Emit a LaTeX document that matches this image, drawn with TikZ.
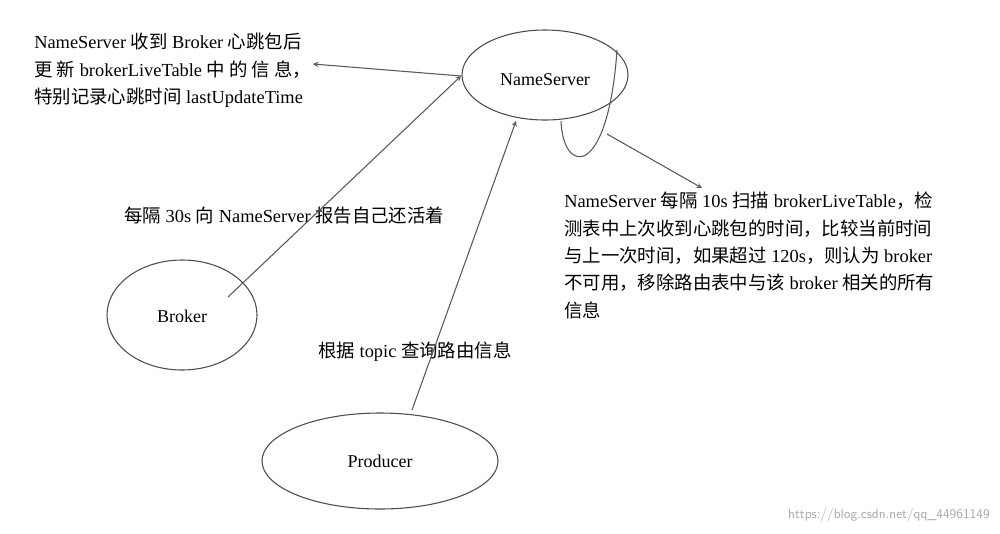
\documentclass[tikz,border=0pt]{standalone}
\usepackage{fontspec}
\setmainfont{Liberation Serif}
\newfontfamily\cjk{Noto Sans CJK SC}
\newcommand\zh[1]{{\cjk #1}}
\begin{document}
\begin{tikzpicture}[x=0.75pt,y=-0.75pt,
  ell/.style={draw=black!70,thick},
  conn/.style={draw=black!65,thick,->,>=stealth},
  txt/.style={font=\fontsize{13.8}{20.5}\selectfont,align=left,anchor=north west,inner sep=0pt}]
\useasboundingbox (0,0) rectangle (1000,533);
\draw[ell] (545,75) ellipse (83 and 45);
\node (ns) at (545,80) {\fontsize{13.5}{15}\selectfont NameServer};
\draw[ell] (182,315) ellipse (75 and 55);
\node (br) at (182,316) {\fontsize{13.5}{15}\selectfont Broker};
\draw[ell] (380,461) ellipse (118 and 48);
\node (pr) at (380,461) {\fontsize{13.5}{15}\selectfont Producer};
\coordinate (nsl) at (461,76);
\coordinate (nsb) at (516,121);
\coordinate (t1) at (313,64);
\coordinate (b1) at (228,297);
\coordinate (p1) at (412,410);
\coordinate (l1) at (607,134);
\coordinate (l2) at (702,188);
\node[txt] (a) at (34,33) {NameServer \zh{收到} Broker \zh{心跳包后}\\ \zh{更 新} brokerLiveTable \zh{中 的 信 息，}\\ \zh{特别记录心跳时间} lastUpdateTime};
\node[txt] (b) at (124,207) {\zh{每隔} 30s \zh{向} NameServer \zh{报告自己还活着}};
\node[txt] (c) at (564,192) {NameServer \zh{每隔} 10s \zh{扫描} brokerLiveTable\zh{，检}\\ \zh{测表中上次收到心跳包的时间，比较当前时间}\\ \zh{与上一次时间，如果超过} 120s\zh{，则认为} broker\\ \zh{不可用，移除路由表中与该} broker \zh{相关的所有}\\ \zh{信息}};
\node[txt] (d) at (318,342) {\zh{根据} topic \zh{查询路由信息}};
\node[anchor=south east,inner sep=0pt,text=black!35,font=\sffamily\fontsize{10}{12}\selectfont] (w) at (990,522) {https://blog.csdn.net/qq\_44961149};
\draw[conn] (nsl) -- (t1);
\draw[conn] (b1) -- (nsl);
\draw[conn] (p1) -- (nsb);
\draw[draw=black!65,thick] (561,121) .. controls (563,175) and (608,180) .. (617,50);
\draw[conn] (l1) -- (l2);
\end{tikzpicture}
\end{document}
